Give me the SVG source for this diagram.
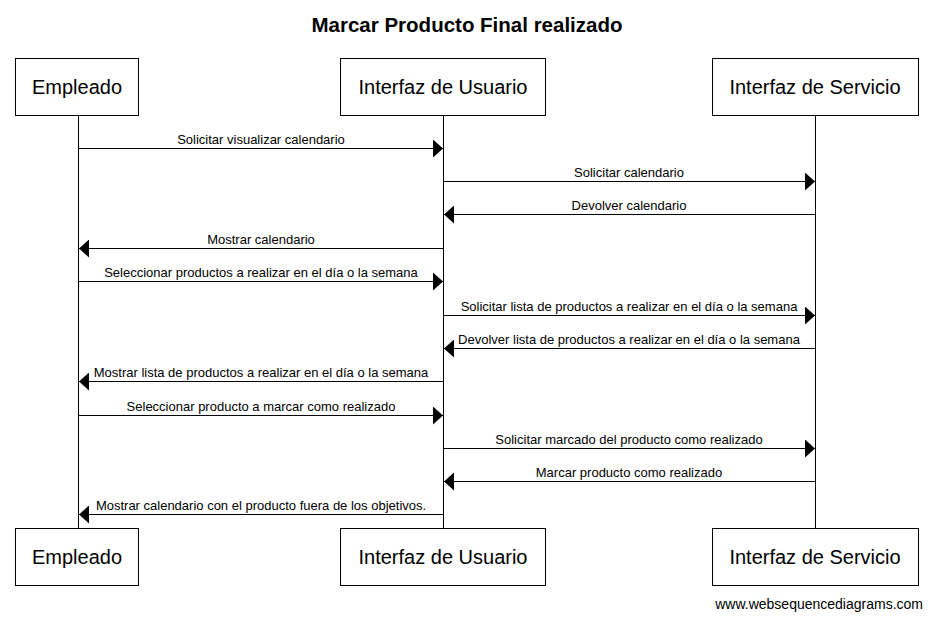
<svg xmlns="http://www.w3.org/2000/svg" width="933" height="619" viewBox="0 0 933 619">
<style>
.box{fill:#fff;stroke:#000;stroke-width:1}
.bt{font-family:"Liberation Sans",Arial,sans-serif;font-size:20px;text-anchor:middle;fill:#000}
.life{stroke:#000;stroke-width:1}
.msg{stroke:#000;stroke-width:1;fill:none}
.lbl{font-family:"Liberation Sans",Arial,sans-serif;font-size:13px;text-anchor:middle;fill:#000}
.title{font-family:"Liberation Sans",Arial,sans-serif;font-size:20.5px;font-weight:bold;text-anchor:middle;fill:#000}
.wm{font-family:"Liberation Sans",Arial,sans-serif;font-size:14px;text-anchor:end;fill:#000}
</style>
<defs>
<marker id="ah" markerWidth="10" markerHeight="18" refX="10" refY="9" orient="auto" markerUnits="userSpaceOnUse">
<path d="M0,0 L10,9 L0,18 Z" fill="#000"/>
</marker>
</defs>
<rect width="933" height="619" fill="#fff"/>
<text class="title" x="467" y="32">Marcar Producto Final realizado</text>
<g id="lifelines">
<line class="life" x1="78.5" y1="115" x2="78.5" y2="528"/>
<line class="life" x1="443.5" y1="115" x2="443.5" y2="528"/>
<line class="life" x1="815.5" y1="115" x2="815.5" y2="528"/>
</g>
<g id="empleado">
<rect class="box" x="15.5" y="58.5" width="123" height="57"/>
<text class="bt" x="77" y="94">Empleado</text>
<rect class="box" x="15.5" y="528.5" width="123" height="57"/>
<text class="bt" x="77" y="564">Empleado</text>
</g>
<g id="interfaz-usuario">
<rect class="box" x="340.5" y="58.5" width="205" height="57"/>
<text class="bt" x="443" y="94">Interfaz de Usuario</text>
<rect class="box" x="340.5" y="528.5" width="205" height="57"/>
<text class="bt" x="443" y="564">Interfaz de Usuario</text>
</g>
<g id="interfaz-servicio">
<rect class="box" x="712.5" y="58.5" width="206" height="57"/>
<text class="bt" x="815" y="94">Interfaz de Servicio</text>
<rect class="box" x="712.5" y="528.5" width="206" height="57"/>
<text class="bt" x="815" y="564">Interfaz de Servicio</text>
</g>
<g id="connectors">
<line class="msg" x1="78.5" y1="148.5" x2="443" y2="148.5" marker-end="url(#ah)"/>
<text class="lbl" x="261" y="144">Solicitar visualizar calendario</text>
<line class="msg" x1="443.5" y1="181.5" x2="815" y2="181.5" marker-end="url(#ah)"/>
<text class="lbl" x="629" y="177">Solicitar calendario</text>
<line class="msg" x1="815.5" y1="214.5" x2="444" y2="214.5" marker-end="url(#ah)"/>
<text class="lbl" x="629" y="210">Devolver calendario</text>
<line class="msg" x1="443.5" y1="248.5" x2="79" y2="248.5" marker-end="url(#ah)"/>
<text class="lbl" x="261" y="244">Mostrar calendario</text>
<line class="msg" x1="78.5" y1="281.5" x2="443" y2="281.5" marker-end="url(#ah)"/>
<text class="lbl" x="261" y="277">Seleccionar productos a realizar en el día o la semana</text>
<line class="msg" x1="443.5" y1="315.5" x2="815" y2="315.5" marker-end="url(#ah)"/>
<text class="lbl" x="629" y="311">Solicitar lista de productos a realizar en el día o la semana</text>
<line class="msg" x1="815.5" y1="348.5" x2="444" y2="348.5" marker-end="url(#ah)"/>
<text class="lbl" x="629" y="344">Devolver lista de productos a realizar en el día o la semana</text>
<line class="msg" x1="443.5" y1="381.5" x2="79" y2="381.5" marker-end="url(#ah)"/>
<text class="lbl" x="261" y="377">Mostrar lista de productos a realizar en el día o la semana</text>
<line class="msg" x1="78.5" y1="415.5" x2="443" y2="415.5" marker-end="url(#ah)"/>
<text class="lbl" x="261" y="411">Seleccionar producto a marcar como realizado</text>
<line class="msg" x1="443.5" y1="448.5" x2="815" y2="448.5" marker-end="url(#ah)"/>
<text class="lbl" x="629" y="444">Solicitar marcado del producto como realizado</text>
<line class="msg" x1="815.5" y1="481.5" x2="444" y2="481.5" marker-end="url(#ah)"/>
<text class="lbl" x="629" y="477">Marcar producto como realizado</text>
<line class="msg" x1="443.5" y1="514.5" x2="79" y2="514.5" marker-end="url(#ah)"/>
<text class="lbl" x="261" y="510">Mostrar calendario con el producto fuera de los objetivos.</text>
</g>
<text class="wm" x="923" y="609">www.websequencediagrams.com</text>
</svg>
